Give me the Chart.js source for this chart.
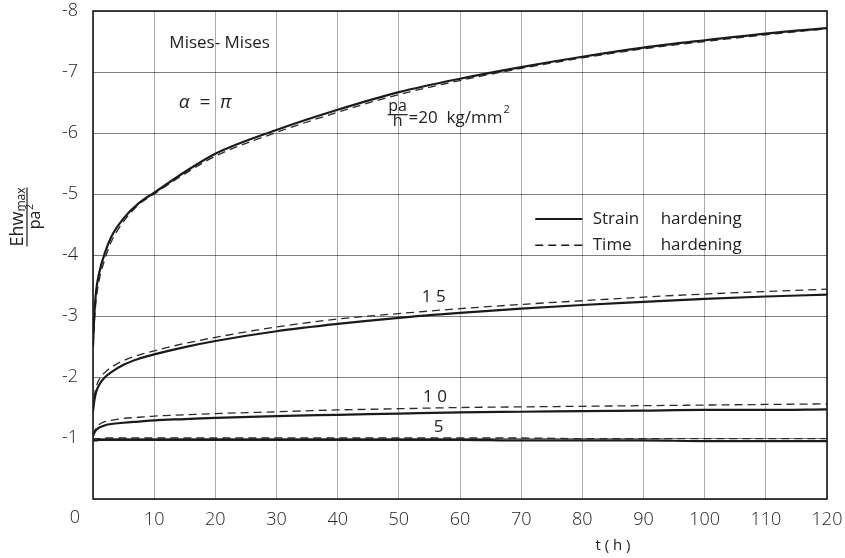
<!DOCTYPE html>
<html><head><meta charset="utf-8">
<script src="https://cdn.jsdelivr.net/npm/chart.js@4/dist/chart.umd.min.js"></script>
<style>html,body{margin:0;padding:0;background:#fff}canvas{display:block}</style>
</head><body>
<canvas id="c" width="845" height="558"></canvas>
<script>
// ---- data ----
const timeHours   = [0, 0.2, 0.5, 1, 2, 3, 5, 7.5, 10, 15, 20, 30, 40, 50, 60, 70, 80, 90, 100, 110, 120];
const xTickValues = [0, 10, 20, 30, 40, 50, 60, 70, 80, 90, 100, 110, 120];
const yTickValues = [-8, -7, -6, -5, -4, -3, -2, -1, 0];

const strain20 = [-2.5, -3.0, -3.4, -3.7, -4.05, -4.3, -4.6, -4.85, -5.02, -5.36, -5.66, -6.05, -6.38, -6.67, -6.89, -7.08, -7.25, -7.40, -7.52, -7.63, -7.72];
const time20   = [-2.5, -2.85, -3.25, -3.58, -3.95, -4.22, -4.55, -4.83, -5.0, -5.33, -5.62, -6.01, -6.34, -6.63, -6.86, -7.06, -7.23, -7.38, -7.50, -7.61, -7.71];
const strain15 = [-1.44, -1.6, -1.75, -1.87, -2.0, -2.08, -2.2, -2.3, -2.37, -2.49, -2.59, -2.75, -2.87, -2.97, -3.05, -3.12, -3.18, -3.23, -3.28, -3.32, -3.35];
const time15   = [-1.44, -1.66, -1.83, -1.96, -2.08, -2.16, -2.27, -2.36, -2.43, -2.55, -2.65, -2.82, -2.95, -3.04, -3.12, -3.19, -3.25, -3.31, -3.36, -3.40, -3.44];
const strain10 = [-1.03, -1.08, -1.13, -1.17, -1.21, -1.23, -1.25, -1.27, -1.29, -1.31, -1.33, -1.36, -1.38, -1.40, -1.42, -1.43, -1.44, -1.45, -1.46, -1.46, -1.47];
const time10   = [-1.03, -1.1, -1.16, -1.22, -1.27, -1.29, -1.32, -1.34, -1.36, -1.38, -1.40, -1.43, -1.46, -1.48, -1.50, -1.51, -1.52, -1.53, -1.54, -1.55, -1.56];
const strain5  = [-0.95, -0.96, -0.96, -0.97, -0.97, -0.97, -0.97, -0.97, -0.97, -0.97, -0.97, -0.97, -0.97, -0.97, -0.97, -0.96, -0.96, -0.96, -0.95, -0.95, -0.95];
const time5    = [-0.96, -0.98, -0.99, -0.99, -1.0, -1.0, -1.0, -1.0, -1.0, -1.0, -1.0, -1.0, -1.0, -1.0, -1.0, -1.0, -0.99, -0.99, -0.99, -0.99, -0.99];

const loadLabels   = ['20', '15', '10', '5'];
const legendLabels = ['Strain', 'Time'];

// ---- chart ----
const FONT = "'Open Sans', 'DejaVu Sans', sans-serif";
const INK = '#1a1a1a';
const toXY = arr => timeHours.map((t, i) => ({x: t, y: arr[i]}));
const solid  = (label, arr) => ({label, data: toXY(arr), borderColor: INK, borderWidth: 2.2, pointRadius: 0, cubicInterpolationMode: 'monotone', fill: false});
const dashed = (label, arr) => ({label, data: toXY(arr), borderColor: '#2a2a2a', borderWidth: 1.3, borderDash: [8, 5], pointRadius: 0, cubicInterpolationMode: 'monotone', fill: false});

const annot = {
  id: 'annot',
  afterDraw(chart) {
    const {ctx, chartArea: a, scales: {x, y}} = chart;
    const X = t => x.getPixelForValue(t), Y = v => y.getPixelForValue(v);
    ctx.save();
    ctx.strokeStyle = INK; ctx.lineWidth = 1.6;
    ctx.strokeRect(a.left, a.top, a.right - a.left, a.bottom - a.top);
    ctx.fillStyle = '#222';
    ctx.textBaseline = 'middle';
    ctx.textAlign = 'center';
    // origin label, set left of the axis as in the reference
    ctx.font = `300 18px ${FONT}`;
    ctx.fillText(String(xTickValues[0]), X(0) - 18, a.bottom + 19);
    ctx.font = `17px ${FONT}`;
    ctx.fillText('Mises- Mises', X(20.7), Y(-7.48));
    ctx.font = `italic 19px ${FONT}`;
    ctx.textAlign = 'left';
    ctx.fillText('α  =  π', X(14), Y(-6.5));
    // load labels
    ctx.font = `17px ${FONT}`;
    ctx.textAlign = 'center';
    ctx.fillText('1 5', X(55.7), Y(-3.31));
    ctx.fillText('1 0', X(55.9), Y(-1.67));
    ctx.fillText('5', X(56.5), Y(-1.18));
    // pa/h = 20 kg/mm2
    const fx = X(49.8), fy = Y(-6.30);
    ctx.textBaseline = 'alphabetic';
    ctx.font = `16px ${FONT}`;
    ctx.fillText('pa', fx, fy - 4);
    ctx.fillText('h', fx, fy + 11);
    ctx.beginPath(); ctx.lineWidth = 1.2; ctx.moveTo(fx - 10, fy); ctx.lineTo(fx + 10, fy); ctx.stroke();
    ctx.textAlign = 'left';
    ctx.font = `17px ${FONT}`;
    const s = '=20  kg/mm';
    ctx.fillText(s, fx + 11, fy + 8);
    const sw = ctx.measureText(s).width;
    ctx.font = `11px ${FONT}`;
    ctx.fillText('2', fx + 12 + sw, fy - 2);
    ctx.textBaseline = 'middle';
    // legend
    const ly1 = Y(-4.59), ly2 = Y(-4.16);
    ctx.strokeStyle = INK;
    ctx.lineWidth = 2.2; ctx.setLineDash([]);
    ctx.beginPath(); ctx.moveTo(X(72.3), ly1); ctx.lineTo(X(80), ly1); ctx.stroke();
    ctx.lineWidth = 1.3; ctx.setLineDash([8, 5]);
    ctx.beginPath(); ctx.moveTo(X(72.3), ly2); ctx.lineTo(X(80), ly2); ctx.stroke();
    ctx.setLineDash([]);
    ctx.font = `17px ${FONT}`;
    ctx.fillText(legendLabels[0], X(81.7), ly1);
    ctx.fillText('hardening', X(92.8), ly1);
    ctx.fillText(legendLabels[1], X(81.7), ly2);
    ctx.fillText('hardening', X(92.8), ly2);
    // x title
    ctx.textAlign = 'center';
    ctx.font = `15px ${FONT}`;
    ctx.fillText('t ( h )', 613, 546);
    // y title fraction (rotated)
    ctx.translate(27, 217);
    ctx.rotate(-Math.PI / 2);
    ctx.textBaseline = 'alphabetic';
    ctx.textAlign = 'left';
    ctx.font = `18px ${FONT}`;
    const w1 = ctx.measureText('Ehw').width;
    ctx.font = `12px ${FONT}`;
    const w2 = ctx.measureText('max').width;
    const tot = w1 + w2;
    ctx.font = `18px ${FONT}`;
    ctx.fillText('Ehw', -tot / 2, -4);
    ctx.font = `12px ${FONT}`;
    ctx.fillText('max', -tot / 2 + w1, -2);
    ctx.lineWidth = 1.2;
    ctx.beginPath(); ctx.moveTo(-tot / 2, 0); ctx.lineTo(tot / 2, 0); ctx.stroke();
    ctx.font = `16px ${FONT}`;
    const wp = ctx.measureText('pa').width;
    ctx.fillText('pa', -wp / 2 - 3, 13);
    ctx.font = `10px ${FONT}`;
    ctx.fillText('2', wp / 2 - 2, 6);
    ctx.restore();
  }
};

new Chart(document.getElementById('c'), {
  type: 'line',
  data: {
    datasets: [
      solid(loadLabels[0] + ' strain', strain20), dashed(loadLabels[0] + ' time', time20),
      solid(loadLabels[1] + ' strain', strain15), dashed(loadLabels[1] + ' time', time15),
      solid(loadLabels[2] + ' strain', strain10), dashed(loadLabels[2] + ' time', time10),
      solid(loadLabels[3] + ' strain', strain5),  dashed(loadLabels[3] + ' time', time5)
    ]
  },
  options: {
    responsive: false,
    devicePixelRatio: 1,
    animation: false,
    layout: {padding: {left: 0, top: 11, right: 18, bottom: 0}},
    plugins: {legend: {display: false}, tooltip: {enabled: false}},
    scales: {
      x: {
        type: 'linear', min: 0, max: 120,
        afterBuildTicks: sc => { sc.ticks = xTickValues.map(v => ({value: v})); },
        afterFit: sc => { sc.height = 59; sc.paddingLeft = 0; sc.paddingRight = 0; },
        grid: {color: 'rgba(0,0,0,0.33)', lineWidth: 1, drawTicks: false},
        border: {display: false},
        ticks: {color: '#222', font: {family: FONT, size: 18, weight: '300'}, padding: 10, maxRotation: 0, autoSkip: false,
                callback: v => v === 0 ? '' : String(v)}
      },
      y: {
        type: 'linear', min: -8, max: 0, reverse: true,
        afterBuildTicks: sc => { sc.ticks = yTickValues.map(v => ({value: v})); },
        afterFit: sc => { sc.width = 93; sc.paddingTop = 0; sc.paddingBottom = 0; },
        grid: {color: 'rgba(0,0,0,0.5)', lineWidth: 1, drawTicks: false},
        border: {display: false},
        ticks: {color: '#222', font: {family: FONT, size: 18, weight: '300'}, padding: 15,
                callback: v => v === 0 ? '' : String(v)}
      }
    }
  },
  plugins: [annot]
});
</script>
</body></html>
